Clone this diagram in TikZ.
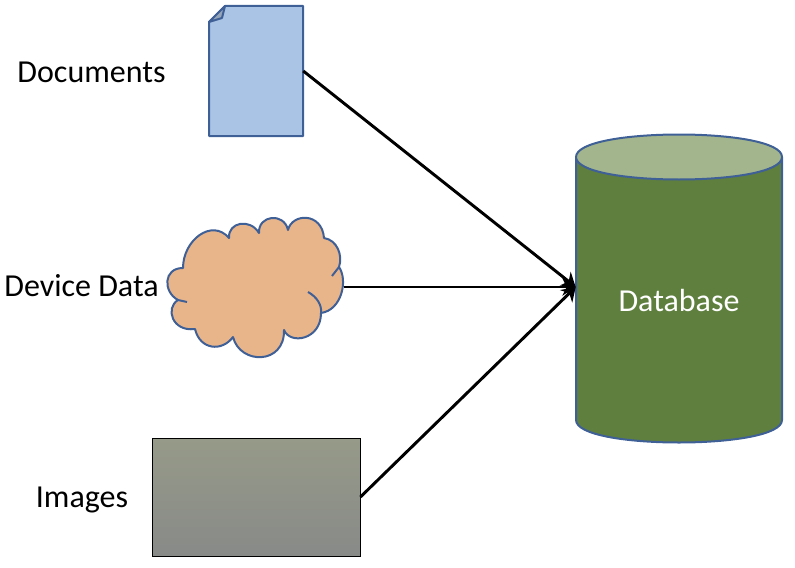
\documentclass[tikz,border=0pt]{standalone}
\usepackage{fontspec}
\setmainfont{Carlito}
\usetikzlibrary{arrows.meta}
\definecolor{docblue}{HTML}{A9C4E4}
\definecolor{edgeblue}{HTML}{3F5F97}
\definecolor{cloudfill}{HTML}{E8B48A}
\definecolor{dbgreen}{HTML}{5F7F3F}
\definecolor{dbtop}{HTML}{A3B58C}
\definecolor{imgtop}{HTML}{969A88}
\definecolor{imgmid}{HTML}{8A8A8A}
\definecolor{imgbot}{HTML}{888A88}
\tikzset{
    label text/.style={font=\fontsize{24}{28}\selectfont, inner sep=0pt},
    feed/.style={-{Stealth[length=10pt, width=13pt]}, black, line width=2.2pt},
    outline/.style={draw=edgeblue, line width=1.5pt, line join=round},
    anchor box/.style={inner sep=0pt}
}
\begin{document}
\begin{tikzpicture}[x=0.75pt, y=-0.75pt]
    \useasboundingbox (0,0) rectangle (795,567);

    \node[label text] (docs label) at (91.5,72) {Documents};
    \node[label text] (device label) at (81.5,286) {Device Data};
    \node[label text] (images label) at (82,500) {Images};

    % document
    \node[anchor box, minimum width=70.5pt, minimum height=97.5pt] (doc) at (256,71) {};
    \draw[outline, fill=docblue] (209,22) -- (225,6) -- (303,6) -- (303,136) -- (209,136) -- cycle;
    \draw[outline, fill=docblue!55!gray] (209,22) -- (222,18) -- (225,6) -- cycle;

    % cloud
    \node[anchor box, minimum width=132pt, minimum height=105pt] (cloud) at (256,287) {};
    \draw[outline, fill=cloudfill] (183,268)
        .. controls (183,240) and (212,218) .. (229,238)
        .. controls (228,222) and (250,218) .. (259,233)
        .. controls (258,215) and (284,212) .. (288,230)
        .. controls (292,213) and (322,212) .. (324,238)
        .. controls (337,240) and (343,255) .. (339,267)
        .. controls (348,280) and (342,310) .. (321,313)
        .. controls (321,340) and (290,345) .. (284,330)
        .. controls (285,365) and (240,365) .. (233,337)
        .. controls (222,352) and (200,350) .. (195,329)
        .. controls (172,332) and (165,308) .. (178,300)
        .. controls (163,292) and (163,268) .. (183,268) -- cycle;
    \draw[outline] (339,267) -- (332,276);
    \draw[outline] (321,313) .. controls (322,305) and (317,297) .. (308,292);
    \draw[outline] (178,300) -- (187,302);

    % images
    \node[anchor box, minimum width=156pt, minimum height=88.5pt, draw=black, line width=0.6pt,
        top color=imgtop, middle color=imgmid, bottom color=imgbot] (img) at (256,497) {};

    % database
    \node[anchor box, minimum width=154.5pt, minimum height=197pt] (db) at (679,287) {};
    \draw[outline, fill=dbgreen] (576,157) -- (576,420)
        .. controls (576,450) and (782,450) .. (782,420) -- (782,157) -- cycle;
    \draw[outline, fill=dbtop] (576,157)
        .. controls (576,127) and (782,127) .. (782,157)
        .. controls (782,187) and (576,187) .. (576,157) -- cycle;
    \node[label text, text=white] (db label) at (679,301) {Database};

    \draw[feed] (doc.east) -- (db.west);
    \draw[feed] (cloud.east) -- (db.west);
    \draw[feed] (img.east) -- (db.west);
\end{tikzpicture}
\end{document}
